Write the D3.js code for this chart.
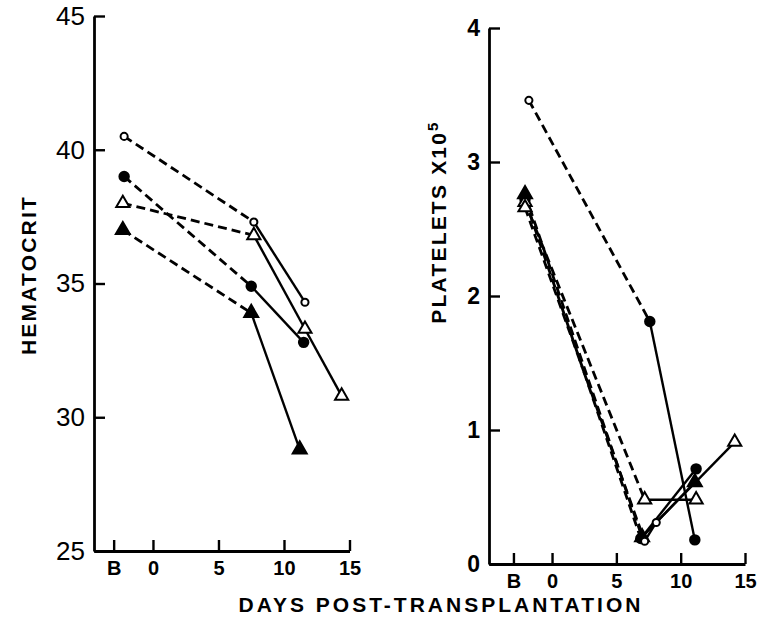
<!DOCTYPE html>
<html>
<head>
<meta charset="utf-8">
<script src="https://cdn.jsdelivr.net/npm/d3@7"></script>
<style>
  body { margin: 0; background: #fff; }
  svg text { font-family: "Liberation Sans", Arial, sans-serif; fill: #000; }
</style>
</head>
<body>
<div id="chart"></div>
<script>
// ---- data ----
const dayTicks = [-3, 0, 5, 10, 15];
const dayTickLabels = ["B", "0", "5", "10", "15"];
const hctTicks = [25, 30, 35, 40, 45];
const pltTicks = [0, 1, 2, 3, 4];

// hematocrit (left panel)
const hctDaysA = [-2.2, 7.7, 11.6], hctValsA = [40.5, 37.3, 34.3], hctMarksA = ["oc", "oc", "oc"];
const hctDaysB = [-2.2, 7.5, 11.5], hctValsB = [39.0, 34.9, 32.8], hctMarksB = ["fc", "fc", "fc"];
const hctDaysC = [-2.3, 7.7, 11.6, 14.4], hctValsC = [38.0, 36.8, 33.3, 30.8], hctMarksC = ["ot", "ot", "ot", "ot"];
const hctDaysD = [-2.3, 7.5, 11.2], hctValsD = [37.0, 33.9, 28.8], hctMarksD = ["ft", "ft", "ft"];

// platelets x10^5 (right panel)
const pltDaysA = [-1.8, 7.6, 11.1], pltValsA = [3.46, 1.81, 0.18], pltMarksA = ["oc", "fc", "fc"];
const pltDaysB = [-2.1, 6.9, 11.2], pltValsB = [2.72, 0.19, 0.71], pltMarksB = ["fc", "fc", "fc"];
const pltDaysC = [-2.1, 7.2, 11.2], pltValsC = [2.70, 0.48, 0.48], pltMarksC = ["ot", "ot", "ot"];
const pltDaysD = [-2.1, 7.0, 11.1], pltValsD = [2.76, 0.20, 0.61], pltMarksD = ["ft", "ft", "ft"];
const pltDaysE = [-2.1, 7.2, 8.1, 14.2], pltValsE = [2.66, 0.17, 0.31, 0.91], pltMarksE = ["ot", "oc", "oc", "ot"];

const W = 759, H = 640;

const svg = d3.select("#chart").append("svg")
  .attr("width", W)
  .attr("height", H);

svg.append("rect").attr("width", W).attr("height", H).attr("fill", "#fff");

function toSeries(days, vals, marks) {
  return days.map((d, i) => ({ day: d, v: vals[i], mark: marks[i] }));
}

const hctSeries = [
  toSeries(hctDaysA, hctValsA, hctMarksA),
  toSeries(hctDaysB, hctValsB, hctMarksB),
  toSeries(hctDaysC, hctValsC, hctMarksC),
  toSeries(hctDaysD, hctValsD, hctMarksD),
];
const pltSeries = [
  toSeries(pltDaysA, pltValsA, pltMarksA),
  toSeries(pltDaysB, pltValsB, pltMarksB),
  toSeries(pltDaysC, pltValsC, pltMarksC),
  toSeries(pltDaysD, pltValsD, pltMarksD),
  toSeries(pltDaysE, pltValsE, pltMarksE),
];

function drawPanel(opts) {
  const { x, y, series, yTicks, yFont, yWeight, yLabel, yLabelX, yLabelY } = opts;
  const g = svg.append("g");

  // y axis - ticks point inward, labels outside
  const yAxis = d3.axisLeft(y)
    .tickValues(yTicks)
    .tickSize(-11)
    .tickSizeOuter(0)
    .tickPadding(9)
    .tickFormat(d3.format("d"));
  const ya = g.append("g")
    .attr("transform", `translate(${x.range()[0]},0)`)
    .call(yAxis);

  // x axis
  const xAxis = d3.axisBottom(x)
    .tickValues(dayTicks)
    .tickSize(-11)
    .tickSizeOuter(0)
    .tickPadding(10)
    .tickFormat((d, i) => dayTickLabels[i]);
  const xa = g.append("g")
    .attr("transform", `translate(0,${y.range()[0]})`)
    .call(xAxis);

  [ya, xa].forEach((a) => {
    a.selectAll("path.domain").attr("stroke", "#000").attr("stroke-width", 2.8);
    a.selectAll(".tick line").attr("stroke", "#000").attr("stroke-width", 2.4);
  });
  ya.selectAll(".tick text")
    .attr("font-size", yFont)
    .attr("font-weight", yWeight)
    .style("font-family", "Liberation Sans, Arial, sans-serif");
  xa.selectAll(".tick text")
    .attr("font-size", 20)
    .attr("font-weight", "bold")
    .style("font-family", "Liberation Sans, Arial, sans-serif");

  g.append("text")
    .attr("transform", `translate(${yLabelX},${yLabelY}) rotate(-90)`)
    .attr("text-anchor", "middle")
    .attr("font-size", 21)
    .attr("font-weight", "bold")
    .attr("letter-spacing", 2.2)
    .call((t) => {
      t.append("tspan").text(yLabel.main);
      if (yLabel.sup) {
        t.append("tspan").attr("font-size", 15).attr("dy", -8).text(yLabel.sup);
      }
    });

  // first segment (baseline -> first post-transplant reading) is dashed
  const line = d3.line().x((d) => x(d.day)).y((d) => y(d.v));
  series.forEach((s) => {
    for (let i = 0; i < s.length - 1; i++) {
      g.append("path")
        .attr("d", line([s[i], s[i + 1]]))
        .attr("fill", "none")
        .attr("stroke", "#000")
        .attr("stroke-width", i === 0 ? 2.8 : 2.4)
        .attr("stroke-dasharray", i === 0 ? "9,5" : null);
    }
  });

  const sym = {
    oc: d3.symbol(d3.symbolCircle, 40),
    fc: d3.symbol(d3.symbolCircle, 70),
    ot: d3.symbol(d3.symbolTriangle, 75),
    ft: d3.symbol(d3.symbolTriangle, 85),
  };
  series.forEach((s) => {
    g.selectAll(null)
      .data(s)
      .join("path")
      .attr("transform", (d) => `translate(${x(d.day)},${y(d.v)})`)
      .attr("d", (d) => sym[d.mark]())
      .attr("fill", (d) => (d.mark[0] === "o" ? "#fff" : "#000"))
      .attr("stroke", "#000")
      .attr("stroke-width", 2);
  });
}

// left panel: hematocrit
drawPanel({
  x: d3.scaleLinear().domain([-4.5, 15]).range([94, 349.5]),
  y: d3.scaleLinear().domain([25, 45]).range([551, 16]),
  series: hctSeries,
  yTicks: hctTicks,
  yFont: 26,
  yWeight: "normal",
  yLabel: { main: "HEMATOCRIT" },
  yLabelX: 36,
  yLabelY: 275,
});

// right panel: platelets
drawPanel({
  x: d3.scaleLinear().domain([-4.9, 15]).range([489, 745]),
  y: d3.scaleLinear().domain([0, 4]).range([564, 28]),
  series: pltSeries,
  yTicks: pltTicks,
  yFont: 23,
  yWeight: "bold",
  yLabel: { main: "PLATELETS X10", sup: "5" },
  yLabelX: 446,
  yLabelY: 222,
});

svg.append("text")
  .attr("x", 441)
  .attr("y", 612)
  .attr("text-anchor", "middle")
  .attr("font-size", 21)
  .attr("font-weight", "bold")
  .attr("letter-spacing", 3)
  .text("DAYS POST-TRANSPLANTATION");
</script>
</body>
</html>
